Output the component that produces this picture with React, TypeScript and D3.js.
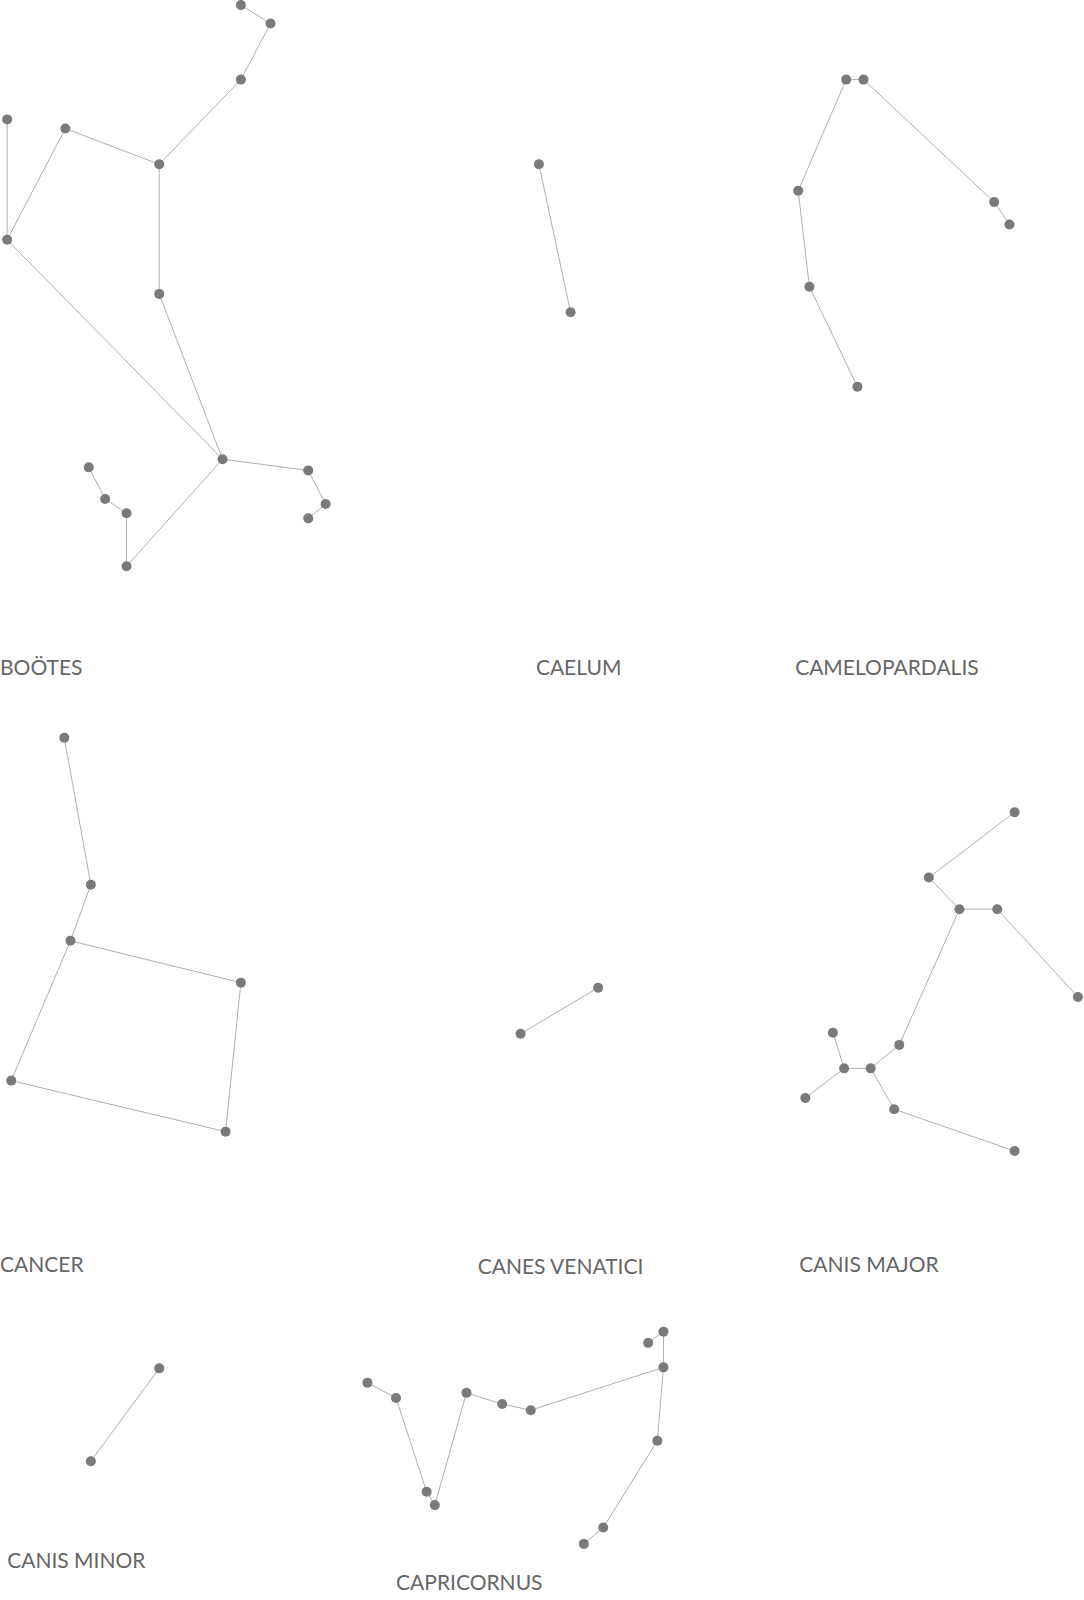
import * as d3 from 'd3'

type Star = [number, number]

const names = ['BOÖTES', 'CAELUM', 'CAMELOPARDALIS', 'CANCER', 'CANES VENATICI', 'CANIS MAJOR', 'CANIS MINOR', 'CAPRICORNUS']
const labelPos: Star[] = [[0, 656], [525, 656], [779, 656], [0, 1241], [468, 1243], [783, 1241], [7, 1531], [388, 1553]]

const stars: Star[][] = [
  [[236, 5], [265, 23], [236, 78], [156, 161], [64, 126], [7, 117], [7, 235], [156, 288], [218, 450], [302, 461], [319, 494], [302, 508], [87, 458], [103, 489], [124, 503], [124, 555]],
  [[528, 161], [559, 306]],
  [[829, 78], [846, 78], [974, 198], [989, 220], [782, 187], [793, 281], [840, 379]],
  [[63, 723], [89, 867], [69, 922], [236, 963], [11, 1059], [221, 1109]],
  [[586, 968], [510, 1013]],
  [[994, 796], [910, 860], [940, 891], [977, 891], [1056, 977], [881, 1024], [816, 1012], [827, 1047], [853, 1047], [789, 1076], [876, 1087], [994, 1128]],
  [[156, 1341], [89, 1432]],
  [[650, 1305], [635, 1316], [650, 1340], [644, 1412], [591, 1497], [572, 1513], [520, 1382], [492, 1376], [457, 1365], [426, 1475], [418, 1462], [388, 1370], [360, 1355]],
]

const links: [number, number][][] = [
  [[0, 1], [1, 2], [2, 3], [3, 4], [4, 6], [5, 6], [3, 7], [7, 8], [6, 8], [8, 9], [9, 10], [10, 11], [8, 15], [15, 14], [14, 13], [13, 12]],
  [[0, 1]],
  [[0, 1], [0, 4], [1, 2], [2, 3], [4, 5], [5, 6]],
  [[0, 1], [1, 2], [2, 3], [2, 4], [3, 5], [4, 5]],
  [[0, 1]],
  [[0, 1], [1, 2], [2, 3], [3, 4], [2, 5], [5, 8], [8, 7], [7, 6], [7, 9], [8, 10], [10, 11]],
  [[0, 1]],
  [[1, 0], [0, 2], [2, 3], [3, 4], [4, 5], [2, 6], [6, 7], [7, 8], [8, 9], [9, 10], [10, 11], [11, 12]],
]

const W = 1084
const H = 1600

export default function App() {
  const x = d3.scaleLinear().domain([0, 1062]).range([0, W])
  const y = d3.scaleLinear().domain([0, 1568]).range([0, H])

  return (
    <svg width={W} height={H} style={{ position: 'absolute', left: 0, top: 0, background: '#fff' }}>
      {stars.map((s, ci) => (
        <g key={ci}>
          {links[ci].map(([a, b], i) => (
            <line key={i} x1={x(s[a][0])} y1={y(s[a][1])} x2={x(s[b][0])} y2={y(s[b][1])} stroke="#b0b0b0" strokeWidth={1} />
          ))}
          {s.map((p, i) => (
            <circle key={i} cx={x(p[0])} cy={y(p[1])} r={5} fill="#7a7a7a" />
          ))}
          <text x={x(labelPos[ci][0])} y={y(labelPos[ci][1])} fontFamily="Lato, 'Open Sans', sans-serif" fontSize={21} fill="#666" dominantBaseline="middle">
            {names[ci]}
          </text>
        </g>
      ))}
    </svg>
  )
}
